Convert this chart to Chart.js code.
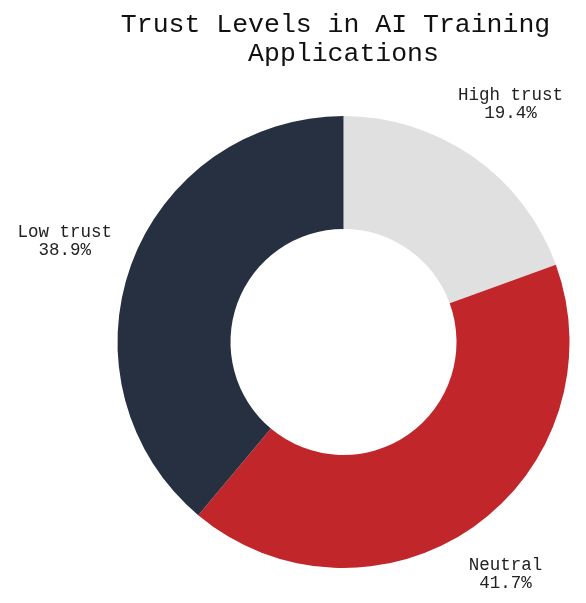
<!DOCTYPE html>
<html>
<head>
<meta charset="utf-8">
<script src="https://cdn.jsdelivr.net/npm/chart.js@4"></script>
<style>
    html, body { margin: 0; padding: 0; background: #fff; }
    #wrap { width: 586px; height: 603px; position: relative; }
</style>
</head>
<body>
<div id="wrap"><canvas id="trustChart"></canvas></div>
<script>
// chart data
const categories = ["High trust", "Neutral", "Low trust"];
const counts = [7, 15, 14];
const percentLabels = ["19.4%", "41.7%", "38.9%"];
const sliceColors = ["#e0e0e0", "#c0262a", "#263041"];
const titleLines = ["Trust Levels in AI Training ", "Applications"];

const monoFont = "'Courier New', 'Liberation Mono', monospace";

// draws "label / percent" outside each slice
const outsideLabels = {
    id: 'outsideLabels',
    afterDatasetsDraw: function (chart) {
        const ctx = chart.ctx;
        const meta = chart.getDatasetMeta(0);
        const fontSize = 17.5;
        const lineH = 18.5;
        ctx.save();
        ctx.font = fontSize + "px " + monoFont;
        ctx.fillStyle = "#222";
        ctx.textAlign = "center";
        ctx.textBaseline = "middle";
        for (let i = 0; i < meta.data.length; i++) {
            const arc = meta.data[i];
            const mid = (arc.startAngle + arc.endAngle) / 2;
            const vx = Math.cos(mid);
            const vy = Math.sin(mid);
            const lines = [categories[i], percentLabels[i]];
            let w = 0;
            for (let j = 0; j < lines.length; j++) {
                w = Math.max(w, ctx.measureText(lines[j]).width);
            }
            const h = lineH * lines.length;
            const dist = arc.outerRadius + 20 + Math.abs(vx) * w / 2 + Math.abs(vy) * h / 2;
            const cx = arc.x + vx * dist;
            const cy = arc.y + vy * dist;
            for (let j = 0; j < lines.length; j++) {
                ctx.fillText(lines[j], cx, cy - h / 2 + lineH / 2 + j * lineH + 1);
            }
        }
        ctx.restore();
    }
};

const chart = new Chart(document.getElementById('trustChart'), {
    type: 'doughnut',
    data: {
        labels: categories,
        datasets: [{
            data: counts,
            backgroundColor: sliceColors,
            borderWidth: 0
        }]
    },
    options: {
        responsive: true,
        maintainAspectRatio: false,
        animation: false,
        cutout: '50%',
        layout: {
            padding: { top: 0, bottom: 35, left: 110, right: 9 }
        },
        plugins: {
            legend: { display: false },
            tooltip: { enabled: false },
            title: {
                display: true,
                text: titleLines,
                color: "#111",
                font: { family: monoFont, size: 26.5, weight: 'normal', lineHeight: 1.1 },
                padding: { top: 10, bottom: 47.7 }
            }
        }
    },
    plugins: [outsideLabels]
});
</script>
</body>
</html>
